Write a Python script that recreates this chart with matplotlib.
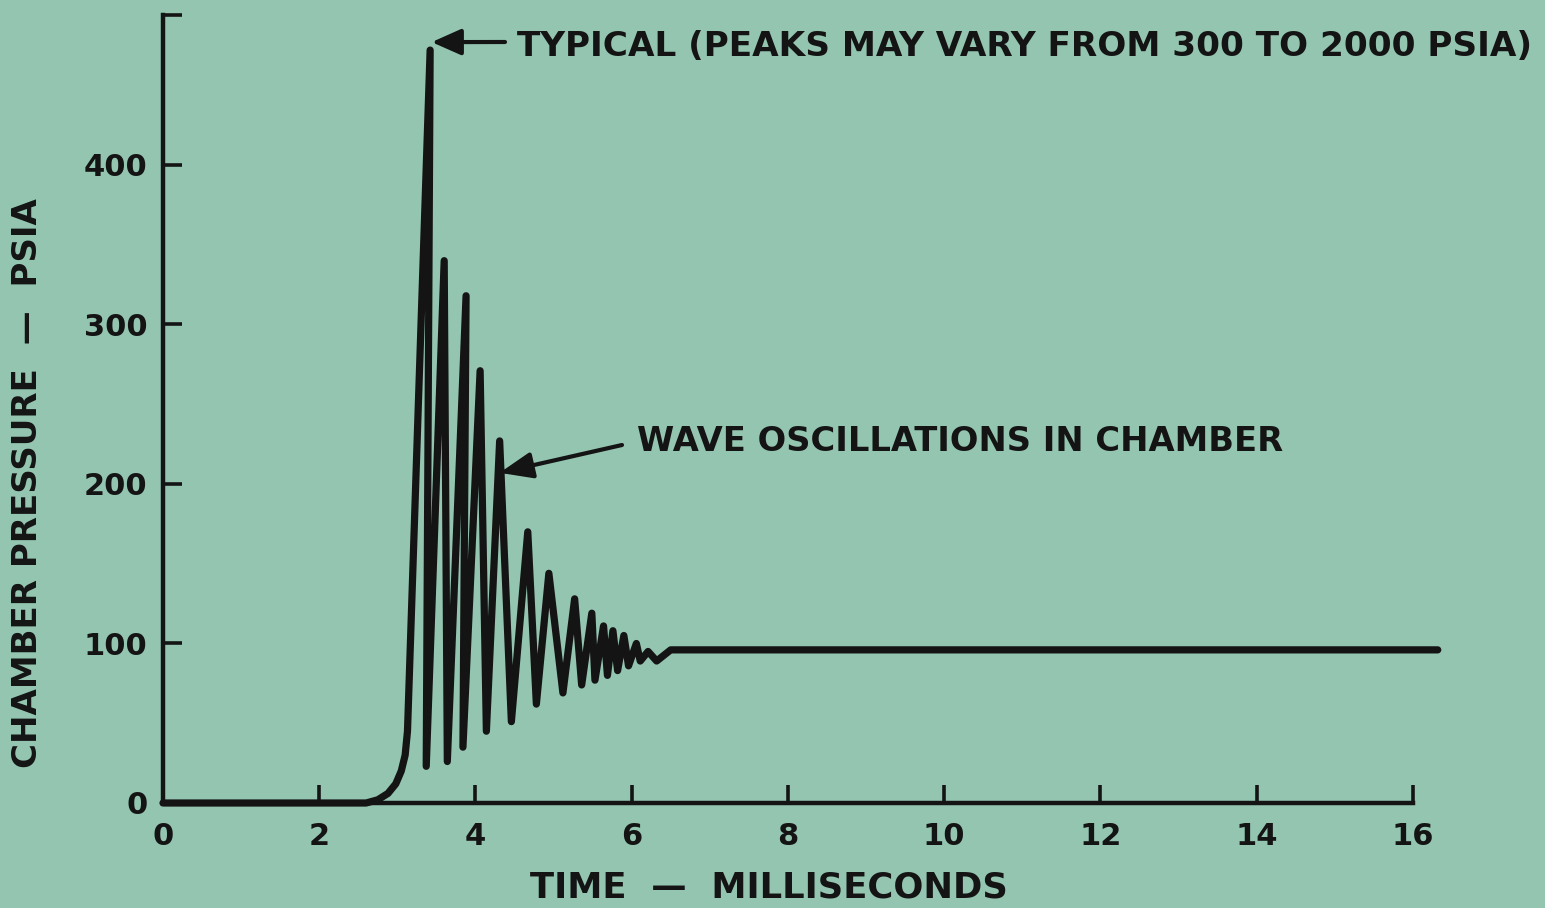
"""
Presión de cámara vs tiempo - oscilaciones de onda
"""

import matplotlib
matplotlib.use('Agg')
import matplotlib.pyplot as plt

# datos
time_ms = [0.0, 2.0, 2.6, 2.75, 2.88, 2.98, 3.05, 3.1, 3.13, 3.42, 3.37,
           3.60, 3.64, 3.88, 3.84, 4.06, 4.14, 4.31, 4.46, 4.67, 4.78,
           4.94, 5.12, 5.27, 5.36, 5.49, 5.53, 5.64, 5.69, 5.76, 5.82,
           5.90, 5.96, 6.06, 6.11, 6.21, 6.32, 6.50, 6.91, 16.32]
pressure_psia = [0, 0, 0, 2, 6, 12, 20, 30, 45, 472, 23,
                 340, 26, 318, 35, 271, 45, 227, 51, 170, 62,
                 144, 69, 128, 74, 119, 77, 111, 80, 108, 83,
                 105, 86, 100, 89, 95, 89, 96, 96, 96]

x_ticks = [0, 2, 4, 6, 8, 10, 12, 14, 16]
y_ticks = [0, 100, 200, 300, 400]

peak_label = 'TYPICAL (PEAKS MAY VARY FROM 300 TO 2000 PSIA)'
wave_label = 'WAVE OSCILLATIONS IN CHAMBER'
x_title = 'TIME  \u2014  MILLISECONDS'
y_title = 'CHAMBER PRESSURE  \u2014  PSIA'

FONDO = '#93c5b1'
TINTA = '#141414'
W, H = 1545, 908
LETRA = dict(family='DejaVu Sans', fontweight='bold', color=TINTA)

fig = plt.figure(figsize=(W / 100, H / 100), dpi=100, facecolor=FONDO)
ax = fig.add_axes([163 / W, 105 / H, (1444 - 163) / W, (893 - 105) / H])
ax.set_facecolor(FONDO)
ax.set_xlim(0, 16.4)
ax.set_ylim(0, 494)

ax.plot(time_ms, pressure_psia, color=TINTA, lw=5.2,
        solid_joinstyle='round', solid_capstyle='round', clip_on=False)

for lado in ['top', 'right']:
    ax.spines[lado].set_visible(False)
for lado in ['left', 'bottom']:
    ax.spines[lado].set_linewidth(3.2)
    ax.spines[lado].set_color(TINTA)
ax.spines['left'].set_bounds(0, 494)
ax.spines['bottom'].set_bounds(0, 16)

ax.set_xticks(x_ticks)
ax.set_xticklabels([str(v) for v in x_ticks], fontsize=22, **LETRA)
ax.set_yticks(y_ticks + [494])
ax.set_yticklabels([str(v) for v in y_ticks] + [''], fontsize=22, **LETRA)
ax.tick_params(axis='x', direction='in', length=13, width=2.6, color=TINTA,
               pad=14)
ax.tick_params(axis='y', direction='in', length=14, width=2.6, color=TINTA,
               pad=11)

# flechas de anotación
ax.annotate('', xy=(3.44, 477), xycoords='data',
            xytext=(505, H - 42), textcoords='figure pixels',
            arrowprops=dict(arrowstyle='-|>,head_length=18,head_width=8',
                            mutation_scale=1, lw=3, color=TINTA,
                            shrinkA=0, shrinkB=0))
ax.annotate('', xy=(4.31, 207), xycoords='data',
            xytext=(622, H - 445), textcoords='figure pixels',
            arrowprops=dict(arrowstyle='-|>,head_length=20,head_width=8',
                            mutation_scale=1, lw=3, color=TINTA,
                            shrinkA=0, shrinkB=0))

fig.text(517 / W, (H - 47) / H, peak_label, fontsize=24.7,
         ha='left', va='center', **LETRA)
fig.text(637 / W, (H - 441) / H, wave_label, fontsize=24.3,
         ha='left', va='center', **LETRA)
fig.text(769 / W, (H - 888) / H, x_title, fontsize=25.5,
         ha='center', va='center', **LETRA)
fig.text(28 / W, (H - 483) / H, y_title, fontsize=24.5,
         ha='center', va='center', rotation=90, **LETRA)

fig.savefig('out.png', dpi=100, facecolor=FONDO)
